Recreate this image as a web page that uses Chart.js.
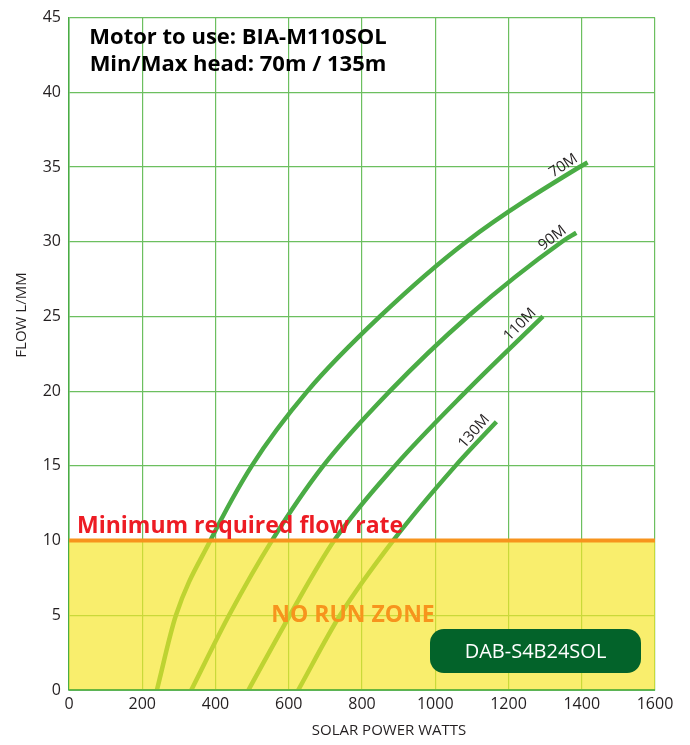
<!DOCTYPE html>
<html>
<head>
<meta charset="utf-8">
<script src="https://cdn.jsdelivr.net/npm/chart.js"></script>
<style>
  html, body { margin: 0; padding: 0; background: #fff; }
  #wrap { width: 690px; height: 745px; }
</style>
</head>
<body>
<div id="wrap"><canvas id="pumpChart" width="690" height="745"></canvas></div>
<script>
// Axis ranges and ticks
const xTicks = [0, 200, 400, 600, 800, 1000, 1200, 1400, 1600];
const yTicks = [0, 5, 10, 15, 20, 25, 30, 35, 40, 45];

// Head curves (watts, flow L/min)
const headLabels = ['70M', '90M', '110M', '130M'];
const watts70 = [240, 292, 386, 499, 651, 849, 1085, 1394, 1416];
const flow70 = [0, 5, 10, 15, 20, 25, 30, 35, 35.3];
const watts90 = [334, 437, 554, 694, 876, 1089, 1346, 1385];
const flow90 = [0, 5, 10, 15, 20, 25, 30, 30.6];
const watts110 = [490, 603, 724, 890, 1085, 1294];
const flow110 = [0, 5, 10, 15, 20, 25];
const watts130 = [626, 740, 885, 1055, 1167];
const flow130 = [0, 5, 10, 15, 17.95];

const minFlow = 10;
const titleLines = ['Motor to use: BIA-M110SOL', 'Min/Max head: 70m / 135m'];
const xTitle = 'SOLAR POWER WATTS';
const yTitle = 'FLOW L/MM';
const pumpName = 'DAB-S4B24SOL';

const GREEN = '#4aac45';
const GRID = '#6cbf5f';
const TXT = '#231f20';

function toPoints(xs, ys) {
  return xs.map((x, i) => ({ x: x, y: ys[i] }));
}

const curves = [
  toPoints(watts70, flow70),
  toPoints(watts90, flow90),
  toPoints(watts110, flow110),
  toPoints(watts130, flow130)
];

// Yellow "no run" overlay, orange limit line and annotations
const overlayPlugin = {
  id: 'overlay',
  afterDatasetsDraw(chart) {
    const ctx = chart.ctx;
    const xs = chart.scales.x;
    const ys = chart.scales.y;
    const left = xs.left, right = xs.right;
    const yMin = ys.getPixelForValue(minFlow);
    const y0 = ys.getPixelForValue(0);

    ctx.save();
    // translucent yellow zone
    ctx.fillStyle = 'rgba(246, 230, 40, 0.68)';
    ctx.fillRect(left, yMin, right - left, y0 - yMin);

    // minimum flow line
    ctx.strokeStyle = '#f7941d';
    ctx.lineWidth = 4;
    ctx.beginPath();
    ctx.moveTo(left, yMin);
    ctx.lineTo(right, yMin);
    ctx.stroke();

    // bottom axis line
    ctx.strokeStyle = GREEN;
    ctx.lineWidth = 1.5;
    ctx.beginPath();
    ctx.moveTo(left, y0);
    ctx.lineTo(right, y0);
    ctx.stroke();

    // label for minimum flow
    ctx.fillStyle = '#ed1c24';
    ctx.font = 'bold 23px "Open Sans"';
    ctx.textAlign = 'left';
    ctx.textBaseline = 'alphabetic';
    ctx.fillText('Minimum required flow rate', 77, 533);

    // no run zone
    ctx.fillStyle = '#f7941d';
    ctx.font = 'bold 23px "Open Sans"';
    ctx.textAlign = 'center';
    ctx.fillText('NO RUN ZONE', 353, 622);

    // pump badge
    const bx = 430, by = 629, bw = 211, bh = 44, r = 14;
    ctx.fillStyle = '#03632a';
    ctx.beginPath();
    ctx.roundRect(bx, by, bw, bh, r);
    ctx.fill();
    ctx.fillStyle = '#ffffff';
    ctx.font = '20px "Open Sans"';
    ctx.textBaseline = 'middle';
    ctx.fillText(pumpName, bx + bw / 2, by + bh / 2 + 1);

    // title block
    ctx.fillStyle = '#000000';
    ctx.font = 'bold 22px "Open Sans"';
    ctx.textBaseline = 'alphabetic';
    ctx.fillText(titleLines[0], 238, 44);
    ctx.fillText(titleLines[1], 238, 71);

    // axis titles
    ctx.fillStyle = TXT;
    ctx.font = '15px "Open Sans"';
    ctx.textBaseline = 'middle';
    ctx.fillText(xTitle, 389, 731);
    ctx.save();
    ctx.translate(22, 315);
    ctx.rotate(-Math.PI / 2);
    ctx.fillText(yTitle, 0, 0);
    ctx.restore();

    // curve labels, rotated along the line ends
    ctx.font = '15px "Open Sans"';
    chart.data.datasets.forEach((ds, i) => {
      const pts = ds.data;
      const a = pts[pts.length - 1];
      const b = pts[pts.length - 3];
      const ax = xs.getPixelForValue(a.x), ay = ys.getPixelForValue(a.y);
      const bxp = xs.getPixelForValue(b.x), byp = ys.getPixelForValue(b.y);
      const ang = Math.atan2(ay - byp, ax - bxp);
      ctx.save();
      ctx.translate(ax - 22 * Math.cos(ang), ay - 22 * Math.sin(ang));
      ctx.rotate(ang);
      ctx.textAlign = 'center';
      ctx.textBaseline = 'bottom';
      ctx.fillText(headLabels[i], 0, -3);
      ctx.restore();
    });
    ctx.restore();
  }
};

new Chart(document.getElementById('pumpChart'), {
  type: 'line',
  data: {
    datasets: curves.map((pts, i) => ({
      label: headLabels[i],
      data: pts,
      borderColor: GREEN,
      borderWidth: 4.5,
      pointRadius: 0,
      fill: false,
      cubicInterpolationMode: 'monotone'
    }))
  },
  options: {
    responsive: false,
    animation: false,
    layout: { padding: { top: 15, right: 35, left: 0, bottom: 0 } },
    plugins: {
      legend: { display: false },
      tooltip: { enabled: false }
    },
    scales: {
      x: {
        type: 'linear',
        min: 0,
        max: 1600,
        afterBuildTicks: (s) => { s.ticks = xTicks.map(v => ({ value: v })); },
        afterFit: (s) => { s.height = 55; },
        grid: { color: GRID, lineWidth: 1.2, drawTicks: false },
        border: { color: GREEN, width: 1.5 },
        ticks: {
          color: TXT,
          font: { family: 'Open Sans', size: 16 },
          padding: 5,
          maxRotation: 0,
          callback: (v) => String(v)
        }
      },
      y: {
        type: 'linear',
        min: 0,
        max: 45,
        afterBuildTicks: (s) => { s.ticks = yTicks.map(v => ({ value: v })); },
        afterFit: (s) => { s.width = 69; },
        grid: { color: GRID, lineWidth: 1.2, drawTicks: false },
        border: { color: GREEN, width: 1.5 },
        ticks: {
          color: TXT,
          font: { family: 'Open Sans', size: 16 },
          padding: 8,
          callback: (v) => String(v)
        }
      }
    }
  },
  plugins: [overlayPlugin]
});
</script>
</body>
</html>
